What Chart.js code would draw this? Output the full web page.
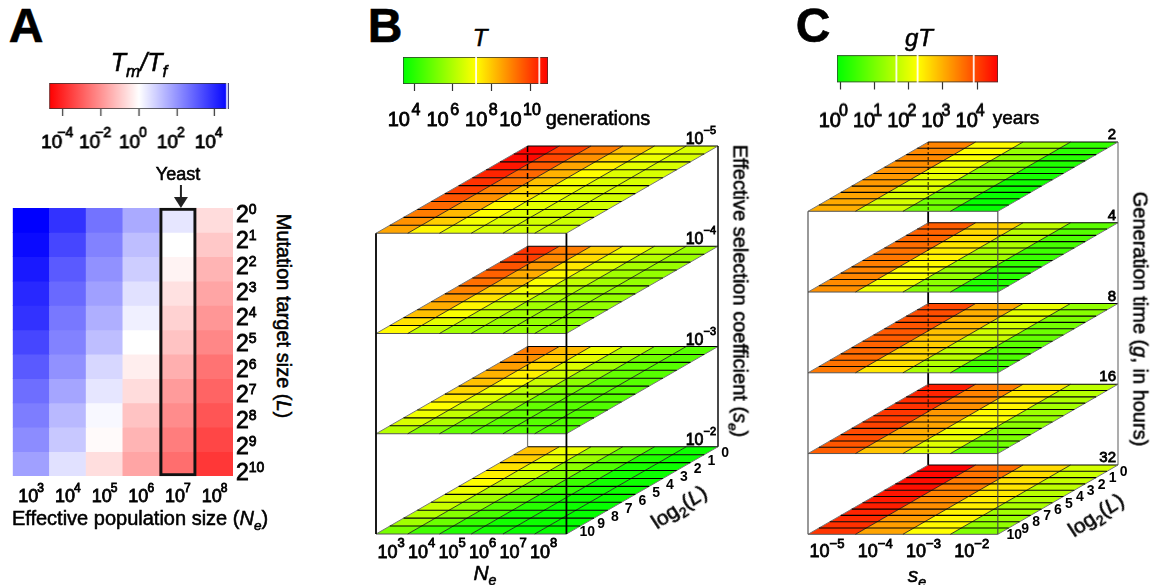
<!DOCTYPE html>
<html>
<head>
<meta charset="utf-8">
<script src="https://cdn.jsdelivr.net/npm/chart.js@4"></script>
<style>
  html, body { margin: 0; background: #fff; }
  #page { position: relative; width: 1158px; height: 585px; overflow: hidden; font-family: "Liberation Sans", Arial, sans-serif; color: #000; }
  canvas { position: absolute; }
  .t { position: absolute; white-space: nowrap; transform-origin: center; -webkit-text-stroke: 0.55px #000; }
  .t sub, .t sup { font-size: 0.68em; line-height: 0; }
</style>
</head>
<body>
<div id="page"></div>
<script>
// tick labels
const neLabels = ['10^3', '10^4', '10^5', '10^6', '10^7', '10^8'];
const seLabels = ['10^−5', '10^−4', '10^−3', '10^−2'];
const lPowerLabels = ['2^0', '2^1', '2^2', '2^3', '2^4', '2^5', '2^6', '2^7', '2^8', '2^9', '2^10'];
const lExponents = ['0', '1', '2', '3', '4', '5', '6', '7', '8', '9', '10'];
const selectionLabels = ['10^−5', '10^−4', '10^−3', '10^−2'];
const generationLabels = ['2', '4', '8', '16', '32'];

// colour bars (log10 units)
const ratioTicks = [-4, -2, 0, 2, 4];
const ratioTickLabels = ['10^−4', '10^−2', '10^0', '10^2', '10^4'];
const ratioStreaks = [4.65];
const tTicks = [4, 6, 8, 10];
const tTickLabels = ['10^4', '10^6', '10^8', '10^10'];
const tStreaks = [7.21, 10.48];
const gtTicks = [0, 1, 2, 3, 4];
const gtTickLabels = ['10^0', '10^1', '10^2', '10^3', '10^4'];
const gtStreaks = [1.64, 2.26, 3.9];

// panel A: log10(Tm/Tf), one list per Ne, L = 2^0 .. 2^10
const ratioNe3 = [4.75, 4.56, 4.28, 4.0, 3.82, 3.45, 3.07, 2.7, 2.42, 2.14, 1.77];
const ratioNe4 = [3.82, 3.45, 3.07, 2.79, 2.51, 2.33, 2.05, 1.68, 1.3, 1.02, 0.56];
const ratioNe5 = [2.61, 2.33, 2.05, 1.77, 1.49, 1.21, 0.75, 0.47, 0.13, -0.09, -0.61];
const ratioNe6 = [1.58, 1.21, 0.93, 0.56, 0.28, 0, -0.32, -0.65, -1.12, -1.4, -1.68];
const ratioNe7 = [0.47, 0, -0.22, -0.56, -0.84, -1.12, -1.49, -1.86, -2.14, -2.42, -2.7];
const ratioNe8 = [-0.65, -1.02, -1.4, -1.68, -1.96, -2.24, -2.61, -2.89, -3.17, -3.45, -3.73];

// panel B: log10(T), rows L = 2^0 .. 2^10, columns Ne = 10^3 .. 10^8
const tSe5 = [
  [10.9, 10.0, 9.1, 8.1, 6.95, 6.6],
  [10.8, 9.9, 8.8, 7.8, 6.9, 6.6],
  [10.6, 9.6, 8.5, 7.4, 6.8, 6.6],
  [10.4, 9.4, 8.3, 7.2, 6.7, 6.6],
  [10.2, 9.2, 8.1, 7.0, 6.65, 6.6],
  [10.0, 9.0, 7.8, 6.95, 6.65, 6.6],
  [9.7, 8.8, 7.6, 6.9, 6.6, 6.5],
  [9.4, 8.5, 7.25, 6.8, 6.6, 6.5],
  [9.1, 8.2, 7.2, 6.7, 6.6, 6.5],
  [8.8, 7.9, 7.0, 6.65, 6.5, 6.4],
  [8.5, 7.3, 6.8, 6.6, 6.5, 6.4]
];
const tSe4 = [
  [10.2, 9.1, 7.9, 6.95, 6.2, 5.7],
  [10.0, 8.9, 7.7, 6.8, 6.1, 5.7],
  [9.7, 8.7, 7.5, 6.65, 5.9, 5.7],
  [9.5, 8.4, 7.25, 6.5, 5.8, 5.6],
  [9.3, 8.2, 7.1, 6.3, 5.8, 5.6],
  [9.0, 7.9, 6.95, 6.1, 5.7, 5.6],
  [8.7, 7.6, 6.7, 6.0, 5.7, 5.6],
  [8.4, 7.3, 6.5, 5.8, 5.7, 5.6],
  [8.1, 7.1, 6.3, 5.8, 5.6, 5.5],
  [7.6, 6.8, 6.1, 5.7, 5.6, 5.5],
  [7.25, 6.3, 5.8, 5.6, 5.6, 5.5]
];
const tSe3 = [
  [9.1, 8.2, 6.95, 6.1, 5.2, 4.7],
  [8.8, 7.9, 6.8, 5.9, 5.1, 4.7],
  [8.6, 7.7, 6.65, 5.8, 4.9, 4.7],
  [8.3, 7.4, 6.5, 5.6, 4.9, 4.7],
  [8.1, 7.2, 6.4, 5.5, 4.8, 4.7],
  [7.8, 6.95, 6.1, 5.2, 4.8, 4.7],
  [7.5, 6.7, 5.9, 5.1, 4.8, 4.7],
  [7.2, 6.6, 5.7, 4.9, 4.7, 4.6],
  [6.95, 6.3, 5.5, 4.9, 4.7, 4.6],
  [6.6, 6.0, 5.2, 4.8, 4.7, 4.6],
  [6.1, 5.4, 4.9, 4.7, 4.7, 4.6]
];
const tSe2 = [
  [8.1, 6.95, 5.8, 4.9, 4.0, 3.6],
  [7.9, 6.8, 5.7, 4.8, 3.9, 3.6],
  [7.6, 6.65, 5.5, 4.6, 3.8, 3.6],
  [7.4, 6.5, 5.4, 4.5, 3.7, 3.6],
  [7.2, 6.3, 5.2, 4.3, 3.7, 3.6],
  [6.95, 6.1, 5.1, 4.2, 3.7, 3.6],
  [6.65, 5.8, 4.9, 4.0, 3.7, 3.6],
  [6.4, 5.6, 4.7, 4.0, 3.6, 3.5],
  [6.1, 5.4, 4.5, 3.8, 3.6, 3.5],
  [5.8, 5.0, 4.2, 3.7, 3.6, 3.5],
  [5.2, 4.4, 3.9, 3.7, 3.5, 3.5]
];

// panel C: log10(gT), rows L = 2^0 .. 2^10, columns se = 10^-5 .. 10^-2
const gtG2 = [
  [3.4, 2.3, 1.36, 0.37], [3.35, 2.25, 1.3, 0.3], [3.33, 2.2, 1.25, 0.25], [3.3, 2.15, 1.2, 0.2],
  [3.25, 2.1, 1.15, 0.15], [3.2, 2.05, 1.1, 0.1], [3.2, 2.0, 1.05, 0.05], [3.15, 1.95, 1.0, 0.0],
  [3.1, 1.9, 0.98, -0.02], [3.05, 1.87, 0.95, -0.05], [3.0, 1.83, 0.93, -0.05]
];
const gtG4 = [
  [3.75, 2.7, 1.68, 0.75], [3.7, 2.62, 1.6, 0.68], [3.65, 2.55, 1.55, 0.6], [3.6, 2.5, 1.5, 0.55],
  [3.55, 2.42, 1.45, 0.47], [3.5, 2.36, 1.4, 0.42], [3.45, 2.3, 1.35, 0.37], [3.4, 2.25, 1.3, 0.32],
  [3.37, 2.2, 1.27, 0.27], [3.33, 2.15, 1.2, 0.22], [3.28, 2.1, 1.15, 0.18]
];
const gtG8 = [
  [3.95, 3.05, 2.05, 1.25], [3.9, 3.0, 2.0, 1.15], [3.87, 2.95, 1.95, 1.05], [3.83, 2.9, 1.88, 0.97],
  [3.8, 2.85, 1.82, 0.9], [3.75, 2.8, 1.77, 0.82], [3.7, 2.72, 1.72, 0.75], [3.65, 2.67, 1.66, 0.68],
  [3.6, 2.62, 1.6, 0.6], [3.55, 2.55, 1.55, 0.52], [3.5, 2.48, 1.47, 0.42]
];
const gtG16 = [
  [4.35, 3.45, 2.5, 1.65], [4.28, 3.4, 2.45, 1.58], [4.2, 3.35, 2.4, 1.5], [4.15, 3.28, 2.35, 1.42],
  [4.1, 3.22, 2.3, 1.35], [4.05, 3.15, 2.25, 1.28], [4.0, 3.1, 2.18, 1.2], [3.93, 3.03, 2.12, 1.12],
  [3.88, 2.95, 2.05, 1.05], [3.82, 2.9, 1.98, 0.95], [3.75, 2.8, 1.9, 0.85]
];
const gtG32 = [
  [4.6, 3.6, 2.6, 1.85], [4.55, 3.55, 2.57, 1.78], [4.5, 3.5, 2.53, 1.72], [4.47, 3.45, 2.5, 1.65],
  [4.42, 3.4, 2.47, 1.6], [4.38, 3.35, 2.43, 1.53], [4.33, 3.3, 2.4, 1.47], [4.28, 3.25, 2.37, 1.4],
  [4.22, 3.2, 2.33, 1.33], [4.17, 3.15, 2.3, 1.25], [4.12, 3.1, 2.26, 1.1]
];

const FONT = '"Liberation Sans", Arial, sans-serif';
Chart.defaults.font.family = FONT;
Chart.defaults.color = '#000';
Chart.defaults.animation = false;
Chart.defaults.plugins.legend.display = false;
Chart.defaults.plugins.tooltip.enabled = false;

const page = document.getElementById('page');

function addCanvas(left, top, w, h) {
  const c = document.createElement('canvas');
  c.style.left = left + 'px';
  c.style.top = top + 'px';
  c.style.width = w + 'px';
  c.style.height = h + 'px';
  c.width = w;
  c.height = h;
  page.appendChild(c);
  return c;
}

function addText(html, x, y, size, rot, extra) {
  const d = document.createElement('div');
  d.className = 't';
  d.innerHTML = html;
  d.style.left = x + 'px';
  d.style.top = y + 'px';
  d.style.fontSize = size + 'px';
  d.style.transform = 'translate(-50%,-50%) rotate(' + (rot || 0) + 'deg)';
  if (extra) d.style.cssText += extra;
  page.appendChild(d);
}

function greenRed(t) {
  t = Math.max(0, Math.min(1, t));
  const r = t < 0.5 ? Math.round(510 * t) : 255;
  const g = t < 0.5 ? 255 : Math.round(510 * (1 - t));
  return 'rgb(' + r + ',' + g + ',0)';
}

function ratioColor(v) {
  const c = Math.round(255 * (1 - Math.min(1, Math.abs(v) / 4.75)));
  return v >= 0 ? 'rgb(' + c + ',' + c + ',255)' : 'rgb(255,' + c + ',' + c + ')';
}

// "10^4" drawn as base and raised exponent, x is the centre (or the left edge)
function drawPower(c, label, x, y, o) {
  const parts = label.split('^');
  const base = parts[0], exp = parts[1] || '';
  const neg = exp.charAt(0) === '−';
  const gap = exp ? (neg && o.negGap !== undefined ? o.negGap : (o.gap || 0)) : 0;
  c.font = o.size + 'px ' + FONT;
  const bw = c.measureText(base).width;
  c.font = o.expSize + 'px ' + FONT;
  const ew = c.measureText(exp).width;
  const total = bw + gap + ew;
  const x0 = o.align === 'left' ? x : o.align === 'right' ? x - total : x - total / 2;
  c.fillStyle = '#000';
  c.strokeStyle = '#000';
  c.lineWidth = 0.8;
  c.textAlign = 'left';
  c.textBaseline = 'alphabetic';
  c.font = o.size + 'px ' + FONT;
  c.fillText(base, x0, y);
  c.strokeText(base, x0, y);
  c.font = o.expSize + 'px ' + FONT;
  c.fillText(exp, x0 + bw + gap, y - o.raise);
  c.strokeText(exp, x0 + bw + gap, y - o.raise);
}

// tick labels with exponents, placed from the axis of the chart
function powerAxis(o) {
  return {
    id: 'powerAxis',
    afterDraw(chart) {
      const s = chart.scales[o.scale], c = chart.ctx, box = chart.canvas;
      c.save();
      o.labels.forEach((txt, i) => {
        const p = s.getPixelForValue(o.values ? o.values[i] : i);
        if (s.isHorizontal()) drawPower(c, txt, p, o.baseline - box.offsetTop, o);
        else drawPower(c, txt, o.left - box.offsetLeft, p + o.dy, o);
      });
      c.restore();
    }
  };
}

// horizontal colour bar, area is in page pixels
function colorBar(area, min, max, stops, ticks, labels, streaks, shift, text) {
  const left = area.x0 - 30, top = area.y0 - 4, w = area.x1 - area.x0 + 60, h = area.y1 - area.y0 + 52;
  const ppu = (area.x1 - area.x0) / (max - min);
  const datasets = [{
    data: [[min, max]],
    backgroundColor: ctx => {
      const ca = ctx.chart.chartArea;
      if (!ca) return '#fff';
      const g = ctx.chart.ctx.createLinearGradient(ca.left, 0, ca.right, 0);
      stops.forEach(s => g.addColorStop(s[0], s[1]));
      return g;
    },
    borderColor: '#333',
    borderWidth: 1,
    borderSkipped: false,
    order: 2
  }];
  streaks.forEach(s => datasets.push({
    data: [[s - 0.6 / ppu, s + 0.6 / ppu]],
    backgroundColor: 'rgba(255,255,255,0.9)',
    order: 1
  }));
  new Chart(addCanvas(left, top, w, h), {
    type: 'bar',
    data: { labels: ['bar'], datasets: datasets },
    plugins: [powerAxis(Object.assign({ scale: 'xLabels', labels: labels, values: ticks }, text))],
    options: {
      responsive: false,
      indexAxis: 'y',
      layout: { padding: { left: 30, right: 30, top: 4, bottom: 0 } },
      datasets: { bar: { grouped: false, barPercentage: 1, categoryPercentage: 1 } },
      scales: {
        y: { display: false },
        x: {
          min: min, max: max, weight: 1,
          afterBuildTicks: s => { s.ticks = ticks.map(v => ({ value: v })); },
          ticks: { display: false },
          border: { display: false },
          grid: { drawOnChartArea: false, tickLength: 7, color: '#333', tickWidth: 1.2 },
          afterFit: s => { s.height = 7; }
        },
        xLabels: {
          axis: 'x', position: 'bottom', weight: 2,
          min: min + shift / ppu, max: max + shift / ppu,
          ticks: { display: false },
          border: { display: false },
          grid: { display: false, drawTicks: false },
          afterFit: s => { s.height = 45; }
        }
      }
    }
  });
}

// panel A heat map
function heatMap() {
  const cols = [ratioNe3, ratioNe4, ratioNe5, ratioNe6, ratioNe7, ratioNe8];
  const datasets = lPowerLabels.map((_, row) => ({
    data: neLabels.map(() => [row, row + 1]),
    backgroundColor: cols.map(c => ratioColor(c[row])),
    borderWidth: 0,
    order: 2
  }));
  datasets.push({
    data: neLabels.map((_, i) => i === 4 ? [0, 11] : null),
    backgroundColor: 'rgba(0,0,0,0)',
    borderColor: '#111',
    borderWidth: 2.5,
    borderSkipped: false,
    clip: false,
    order: 1
  });
  const arrow = {
    id: 'yeastArrow',
    afterDraw(chart) {
      const c = chart.ctx, x = chart.scales.x.getPixelForValue(4) + 3, top = chart.chartArea.top;
      c.save();
      c.strokeStyle = c.fillStyle = '#222';
      c.lineWidth = 2;
      c.beginPath(); c.moveTo(x, top - 23); c.lineTo(x, top - 6); c.stroke();
      c.beginPath(); c.moveTo(x - 7, top - 11); c.lineTo(x + 7, top - 11); c.lineTo(x, top); c.closePath(); c.fill();
      c.restore();
    }
  };
  new Chart(addCanvas(0, 180, 270, 330), {
    type: 'bar',
    data: { labels: neLabels, datasets: datasets },
    plugins: [
      arrow,
      powerAxis({ scale: 'x', labels: neLabels, baseline: 502, size: 18, expSize: 12, raise: 10, gap: -1 }),
      powerAxis({ scale: 'yPowers', labels: lPowerLabels, left: 236, dy: 8.5, align: 'left', size: 23, expSize: 14, raise: 8, gap: 0 })
    ],
    options: {
      responsive: false,
      layout: { padding: { left: 12.7, top: 28, right: 0, bottom: 0 } },
      datasets: { bar: { grouped: false, barPercentage: 1, categoryPercentage: 1 } },
      scales: {
        x: {
          ticks: { display: false },
          grid: { display: false, drawTicks: false },
          border: { display: false },
          afterFit: s => { s.height = 34; }
        },
        y: { display: false, reverse: true, min: 0, max: 11 },
        yPowers: {
          axis: 'y', position: 'right', reverse: true, min: -0.233, max: 10.19,
          ticks: { display: false },
          grid: { display: false, drawTicks: false },
          border: { display: false },
          afterFit: s => { s.width = 37; }
        }
      }
    }
  });
}

// oblique stack of planes: x = column + shear * depth, y = plane * gap + depth
function cube(cfg) {
  const nRows = lExponents.length, nCols = cfg.planes[0][0].length, nPlanes = cfg.planes.length;
  const pt = (col, depth, k) => ({ x: col + cfg.shear * depth, y: k * cfg.gap + depth });
  const xMax = nCols + cfg.shear * nRows, yMax = (nPlanes - 1) * cfg.gap + nRows;
  const line = (data, color, width, order, dash) => ({
    data: data, showLine: true, pointRadius: 0, borderColor: color, borderWidth: width,
    borderDash: dash || [], fill: false, clip: false, order: order
  });
  const datasets = [];

  // the hidden back edge shows in the gaps, behind the planes
  datasets.push(line([pt(0, nRows, 0), pt(0, nRows, nPlanes - 1)], cfg.backColor, cfg.backWidth, 6));

  cfg.planes.forEach((plane, p) => {
    const k = nPlanes - 1 - p;
    plane.forEach((row, i) => {
      const d0 = nRows - 1 - i, d1 = nRows - i;
      row.forEach((v, j) => {
        datasets.push({
          data: [pt(j, d0, k), pt(j + 1, d0, k), pt(j + 1, d1, k), pt(j, d1, k), pt(j, d0, k)],
          showLine: true, pointRadius: 0, borderWidth: 0,
          fill: 'shape',
          backgroundColor: greenRed((v - cfg.min) / (cfg.max - cfg.min)),
          clip: false, order: 5
        });
      });
    });
    for (let d = 1; d < nRows; d++) datasets.push(line([pt(0, d, k), pt(nCols, d, k)], '#000', 1.1, 4));
    for (let c = 1; c < nCols; c++) datasets.push(line([pt(c, 0, k), pt(c, nRows, k)], '#111', 0.8, 4));
    datasets.push(line([pt(0, 0, k), pt(0, nRows, k)], '#777', 1, 4));
    datasets.push(line([pt(nCols, 0, k), pt(nCols, nRows, k)], '#777', 1, 4));
    datasets.push(line([pt(0, 0, k), pt(nCols, 0, k)], '#555', 1, 4));
    datasets.push(line([pt(0, nRows, k), pt(nCols, nRows, k)], '#000', 1, 4));
    if (k > 0) {
      const back = cfg.shear * nRows;
      datasets.push(line([{ x: back, y: k * cfg.gap + nRows }, { x: back, y: k * cfg.gap }], '#000', cfg.dashWidth, 2, cfg.dash));
    }
  });

  // box edges
  datasets.push(line([pt(0, 0, 0), pt(0, 0, nPlanes - 1)], cfg.edgeColor, cfg.edgeWidth, 1));
  datasets.push(line([pt(nCols, 0, 0), pt(nCols, 0, nPlanes - 1)], cfg.edgeColor, cfg.edgeWidth, 1));
  datasets.push(line([pt(nCols, nRows, 0), pt(nCols, nRows, nPlanes - 1)], cfg.edgeColor, cfg.edgeWidth * 0.8, 1));

  const edgeLabels = {
    id: 'edgeLabels',
    afterDraw(chart) {
      const c = chart.ctx, sx = chart.scales.x, sy = chart.scales.y;
      c.save();
      cfg.planeLabels.forEach((txt, p) => {
        const q = pt(nCols, nRows, nPlanes - 1 - p);
        drawPower(c, txt, sx.getPixelForValue(q.x) - 2, sy.getPixelForValue(q.y) - cfg.planeLift, cfg.planeText);
      });
      c.fillStyle = '#000';
      c.font = 'bold 14px ' + FONT;
      c.textAlign = 'center';
      c.textBaseline = 'middle';
      lExponents.forEach((txt, i) => {
        const q = pt(nCols, nRows - 0.5 - i, 0);
        c.fillText(txt, sx.getPixelForValue(q.x) + cfg.lOffset[0], sy.getPixelForValue(q.y) + cfg.lOffset[1]);
      });
      c.restore();
    }
  };

  const b = cfg.box;
  const left = b.x0 - 20, top = b.y0 - 22, w = b.x1 - b.x0 + 40, h = 585 - top;
  new Chart(addCanvas(left, top, w, h), {
    type: 'scatter',
    data: { datasets: datasets },
    plugins: [edgeLabels, powerAxis(Object.assign({ scale: 'xColumns', labels: cfg.tickLabels }, cfg.tickText))],
    options: {
      responsive: false,
      events: [],
      layout: { padding: { left: 20, right: 20, top: 22, bottom: 0 } },
      scales: {
        x: { display: false, min: 0, max: xMax },
        y: { display: false, min: 0, max: yMax },
        xColumns: {
          axis: 'x', position: 'bottom', min: cfg.tickMin, max: cfg.tickMax,
          ticks: { display: false },
          grid: { display: false, drawTicks: false },
          border: { display: false },
          afterFit: s => { s.height = 585 - b.y1; }
        }
      }
    }
  });
}

const ratioStops = [[0, '#f00'], [0.5, '#fff'], [1, '#00f']];
const heatStops = [[0, '#0f0'], [0.5, '#ff0'], [1, '#f00']];

colorBar({ x0: 49.3, x1: 228.7, y0: 82.7, y1: 112.7 }, -4.74, 4.75, ratioStops, ratioTicks, ratioTickLabels, ratioStreaks, 6,
  { baseline: 148, size: 19, expSize: 14, raise: 11, gap: -1, negGap: -5 });
colorBar({ x0: 403, x1: 548.3, y0: 57, y1: 88 }, 3.43, 10.93, heatStops, tTicks, tTickLabels, tStreaks, 10,
  { baseline: 126, size: 20, expSize: 16, raise: 11, gap: 1.5 });
colorBar({ x0: 836.7, x1: 997.7, y0: 55, y1: 86.7 }, -0.097, 4.61, heatStops, gtTicks, gtTickLabels, gtStreaks, 7,
  { baseline: 126, size: 20, expSize: 16, raise: 11, gap: -2 });

heatMap();

cube({
  box: { x0: 376, x1: 718, y0: 146, y1: 534 },
  planes: [tSe5, tSe4, tSe3, tSe2], min: 3.43, max: 10.93,
  shear: 0.4341, gap: 12.64,
  planeLabels: selectionLabels, planeLift: 2,
  planeText: { size: 16, expSize: 11, raise: 10, gap: 0, align: 'right' },
  tickLabels: neLabels, tickMin: -0.492, tickMax: 10.72,
  tickText: { baseline: 558, size: 18, expSize: 13, raise: 11, gap: 0 },
  lOffset: [14, 2.5],
  backColor: '#777', backWidth: 1.2, dashWidth: 1.5, dash: [6, 3],
  edgeColor: '#000', edgeWidth: 1.8
});

cube({
  box: { x0: 807.7, x1: 1118, y0: 141.7, y1: 534.3 },
  planes: [gtG2, gtG4, gtG8, gtG16, gtG32], min: -0.097, max: 4.61,
  shear: 0.2302, gap: 12.82,
  planeLabels: generationLabels, planeLift: 3,
  planeText: { size: 15, expSize: 11, raise: 10, gap: 0, align: 'right' },
  tickLabels: seLabels, tickMin: -0.393, tickMax: 6.03,
  tickText: { baseline: 557, size: 18, expSize: 13, raise: 9, gap: 0 },
  lOffset: [11, 4],
  backColor: '#000', backWidth: 1.8, dashWidth: 0.9, dash: [3, 2],
  edgeColor: '#444', edgeWidth: 1.1
});

// panel letters, titles and axis names
const LETTER = 'font-weight:bold;-webkit-text-stroke:0.6px #000;';
addText('A', 26, 25, 48, 0, LETTER);
addText('B', 385, 25, 48, 0, LETTER);
addText('C', 813, 25, 48, 0, LETTER);

addText('<i>T<sub>m</sub>/T<sub>f</sub></i>', 139, 62, 25);
addText('Yeast', 178, 174, 18);
addText('Effective population size (<i>N<sub>e</sub></i>)', 140, 518, 20);
addText('Mutation target size (<i>L</i>)', 283, 316, 20, 90);

addText('<i>T</i>', 480, 38, 24);
addText('generations', 598, 118, 20);
addText('Effective selection coefficient (<i>s<sub>e</sub></i>)', 740, 291, 20, 90);
addText('<i>N<sub>e</sub></i>', 485, 573, 21);
addText('log<sub>2</sub>(<i>L</i>)', 679, 507, 21, -33);

addText('<i>gT</i>', 919, 38, 24);
addText('years', 1016, 118, 19);
addText('Generation time (<i>g</i>, in hours)', 1140, 319, 20, 90);
addText('<i>s<sub>e</sub></i>', 917, 575, 21);
addText('log<sub>2</sub>(<i>L</i>)', 1096, 515, 21, -33);
</script>
</body>
</html>
